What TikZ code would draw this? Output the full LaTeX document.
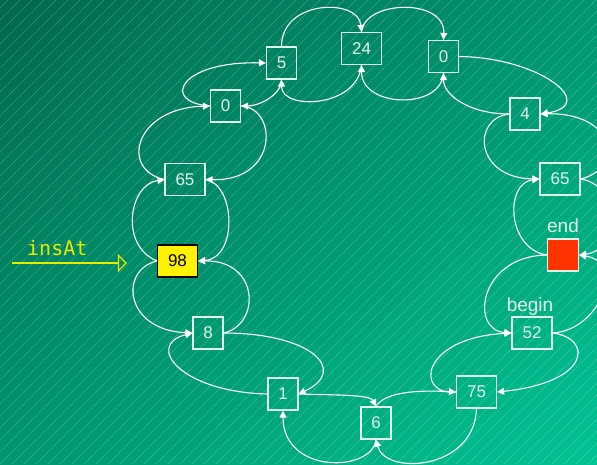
\documentclass[tikz,border=0pt]{standalone}
\usepackage{fontspec}
\setmainfont{Liberation Sans}
\newfontfamily\monofont{DejaVu Sans Mono}
\usepackage{tikz}
\usetikzlibrary{arrows.meta, shadings}

\definecolor{bgdark}{RGB}{0,104,78}
\definecolor{bgmid}{RGB}{0,150,112}
\definecolor{bglight}{RGB}{0,196,146}
\definecolor{cellline}{RGB}{225,245,236}
\definecolor{endred}{RGB}{255,51,0}
\definecolor{insyellow}{RGB}{235,235,0}

\begin{document}
\begin{tikzpicture}[x=1pt, y=1pt, >={Triangle[length=7pt,width=7pt]},
  cell/.style={draw=cellline, line width=1.2pt, minimum width=30, minimum height=32, inner sep=0pt,
    text=cellline, font=\fontsize{17}{20}\selectfont},
  wcell/.style={cell, minimum width=40},
  link/.style={->, draw=white, line width=1.1pt},
  tag/.style={text=cellline, font=\fontsize{19}{22}\selectfont},
  insarrow/.style={draw=insyellow, line width=1.2pt, -{Triangle[open, length=9pt, width=18pt]}}]
  \useasboundingbox (0,0) rectangle (597,-464);
  \clip (0,0) rectangle (597,-464);
  % background
  \shade[upper left=bgdark, upper right=bgmid, lower left=bgmid, lower right=bglight] (0,0) rectangle (597,-464);
  \foreach \k in {-468,-456,...,600}
    \draw[white, opacity=0.3, line width=0.5pt, dash pattern=on 2pt off 1pt] (\k,-464) -- ++(464,464);

  % ring of cells
  \node[wcell, fill=yellow, draw=black, text=black] (n98) at (177.5,-261) {98};
  \node[wcell] (n65L) at (185,-179.5) {65};
  \node[cell]  (n0L)  at (225.5,-106) {0};
  \node[cell]  (n5)   at (281.5,-63) {5};
  \node[wcell] (n24)  at (361.5,-48.5) {24};
  \node[cell]  (n0T)  at (443.5,-56.5) {0};
  \node[cell]  (n4)   at (525,-114) {4};
  \node[wcell] (n65R) at (560,-179) {65};
  \node[cell, fill=endred, minimum width=31] (nEnd) at (563,-255) {};
  \node[wcell] (n52)  at (532,-333) {52};
  \node[wcell] (n75)  at (476.5,-392) {75};
  \node[cell]  (n6)   at (376,-423) {6};
  \node[cell]  (n1)   at (283,-394) {1};
  \node[cell]  (n8)   at (208,-333) {8};

  \node[tag, anchor=base] (lblEnd) at ([yshift=6pt]nEnd.north) {end};
  \node[tag, anchor=base] (lblBegin) at ([xshift=-2pt, yshift=5pt]n52.north) {begin};

  % insAt pointer
  \coordinate (insFrom) at (12,-263);
  \node[anchor=base west, inner sep=0pt, text=insyellow, font=\monofont\fontsize{20}{24}\selectfont] (insLbl) at (27,-255) {insAt};
  \draw[insarrow, shorten >=30pt] (insFrom) -- (insFrom -| n98.west);

  % top
  \draw[link] (n5.north) .. controls +(0,47) and +(-3,34) .. (n24.north);
  \draw[link] (n24.north) .. controls +(3,32) and +(2,42) .. (n0T.north);
  \draw[link] (n0T.south) .. controls +(-2,-37) and +(0,-43) .. (n24.south);
  \draw[link] (n24.south) .. controls +(-4,-43) and +(0,-31) .. (n5.south);
  \draw[link] (n0T.east) .. controls +(81,-1) and +(59,9) .. (n4.east);
  \draw[link] (n4.west) .. controls +(-40,0) and +(0,-22) .. (n0T.south);
  % left side
  \draw[link] (n5.south) .. controls +(0,-16) and +(17,0) .. (n0L.east);
  \draw[link] (n0L.west) .. controls +(-50,4) and +(-86,2) .. (n5.west);
  \draw[link] (n65L.west) .. controls +(-45,10) and +(-75,-2) .. (n0L.west);
  \draw[link] (n0L.east) .. controls +(37,-2) and +(73,-2) .. (n65L.east);
  \draw[link] (n98.west) .. controls +(-38,16) and +(-35,-5) .. (n65L.west);
  \draw[link] (n65L.east) .. controls +(30,-5) and +(40,3) .. (n98.east);
  \draw[link] (n98.west) .. controls +(-38,-9) and +(-68,3) .. (n8.west);
  \draw[link] (n8.east) .. controls +(37,8) and +(62,1) .. (n98.east);
  % bottom
  \draw[link] (n1.west) .. controls +(-87,2) and +(-48,-12) .. (n8.west);
  \draw[link] (n8.east) .. controls +(87,0) and +(51,24) .. (n1.east);
  \draw[link] (n1.east) .. controls +(31,-1) and +(-6,12) .. (n6.north);
  \draw[link] (n6.south) .. controls +(-4,-33) and +(0,-64) .. (n1.south);
  \draw[link] (n75.south) .. controls +(-2,-62) and +(9,-36) .. (n6.south);
  \draw[link] (n6.north) .. controls +(9,15) and +(-36,2) .. (n75.west);
  % right side
  \draw[link] (n75.west) .. controls +(-41,-4) and +(-92,-5) .. (n52.west);
  \draw[link] (n52.east) .. controls +(40,-5) and +(95,10) .. (n75.east);
  \draw[link] (nEnd.west) .. controls +(-68,-1) and +(-42,3) .. (n52.west);
  \draw[link] (n52.east) .. controls +(48,3) and +(46,-7) .. (nEnd.east);
  \draw[link] (nEnd.west) .. controls +(-40,6) and +(-35,-4) .. (n65R.west);
  \draw[link] (n65R.east) .. controls +(40,-6) and +(41,5) .. (nEnd.east);
  \draw[link] (n4.west) .. controls +(-38,-4) and +(-65,1) .. (n65R.west);
  \draw[link] (n65R.east) .. controls +(45,11) and +(74,2) .. (n4.east);
\end{tikzpicture}
\end{document}
